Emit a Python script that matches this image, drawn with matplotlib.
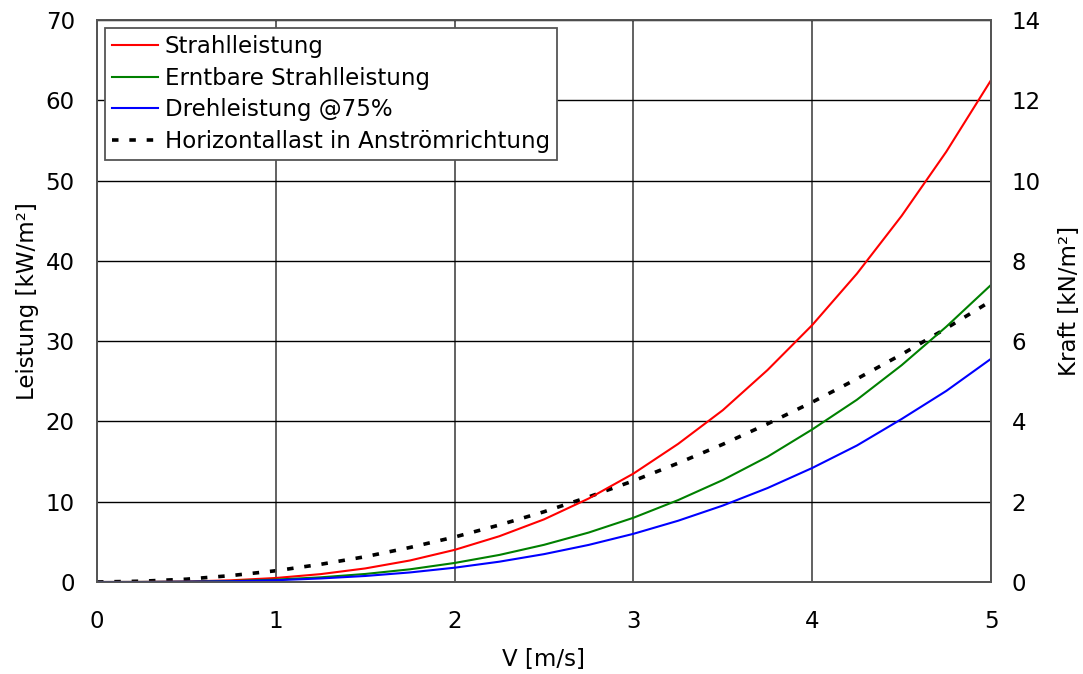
#!/usr/bin/env python3

import matplotlib as mpl
import matplotlib.pyplot as plt

# Strömungsgeschwindigkeit V [m/s]
v = [0, 0.25, 0.5, 0.75, 1.0, 1.25, 1.5, 1.75, 2.0, 2.25, 2.5, 2.75, 3.0,
     3.25, 3.5, 3.75, 4.0, 4.25, 4.5, 4.75, 5.0]

# Leistung [kW/m²]
strahlleistung = [0, 0.01, 0.06, 0.21, 0.5, 0.98, 1.69, 2.68, 4.0, 5.7, 7.8,
                  10.4, 13.5, 17.2, 21.4, 26.4, 32.0, 38.4, 45.6, 53.6, 62.5]
erntbare = [0, 0.01, 0.04, 0.12, 0.3, 0.58, 1.0, 1.58, 2.37, 3.37, 4.63,
            6.16, 8.0, 10.2, 12.7, 15.6, 19.0, 22.7, 27.0, 31.8, 37.0]
drehleistung = [0, 0.0, 0.03, 0.09, 0.22, 0.44, 0.75, 1.19, 1.78, 2.53, 3.47,
                4.62, 6.0, 7.63, 9.52, 11.7, 14.2, 17.0, 20.3, 23.8, 27.8]

# Kraft [kN/m²]
horizontallast = [0, 0.02, 0.07, 0.16, 0.28, 0.44, 0.63, 0.86, 1.12, 1.42,
                  1.75, 2.12, 2.52, 2.96, 3.43, 3.94, 4.48, 5.06, 5.67, 6.32, 7.0]

FS = 16.5
mpl.rcParams["font.family"] = "DejaVu Sans"
mpl.rcParams["font.size"] = FS

fig = plt.figure(figsize=(10.83, 6.74), dpi=100)
ax = fig.add_axes([97 / 1083, 92 / 674, 894 / 1083, 562 / 674])
ax2 = ax.twinx()

l1, = ax.plot(v, strahlleistung, color="#ff0000", lw=1.5, label="Strahlleistung")
l2, = ax.plot(v, erntbare, color="#008000", lw=1.5, label="Erntbare Strahlleistung")
l3, = ax.plot(v, drehleistung, color="#0000ff", lw=1.5, label="Drehleistung @75%")
l4, = ax2.plot(v, horizontallast, color="black", lw=2.6, linestyle=(0, (1.8, 3.0)),
               label="Horizontallast in Anströmrichtung")

ax.set_xlim(0, 5)
ax.set_ylim(0, 70)
ax2.set_ylim(0, 14)
ax.set_xticks(range(0, 6))
ax.set_yticks(range(0, 71, 10))
ax2.set_yticks(range(0, 15, 2))

ax.grid(True, axis="y", color="black", lw=1.0)
ax.grid(True, axis="x", color="#555555", lw=1.3)
ax.set_axisbelow(True)

for a in (ax, ax2):
	for s in a.spines.values():
		s.set_color("#555555")
		s.set_linewidth(1.3)
	a.tick_params(length=0, labelsize=FS)
ax.tick_params(axis="y", pad=16)
ax.tick_params(axis="x", pad=20)
ax2.tick_params(axis="y", pad=15)

ax.set_xlabel("V [m/s]", fontsize=FS, labelpad=11)
ax.set_ylabel("Leistung [kW/m²]", fontsize=FS, labelpad=5)
ax2.set_ylabel("Kraft [kN/m²]", fontsize=FS, labelpad=12)

leg = ax.legend(handles=[l1, l2, l3, l4], loc="upper left", bbox_to_anchor=(0.0, 1.0),
                fontsize=FS, frameon=True, fancybox=False, framealpha=1,
                handlelength=2.0, handletextpad=0.3, borderpad=0.3, labelspacing=0.38,
                borderaxespad=0.35)
leg.get_frame().set_edgecolor("#555555")
leg.get_frame().set_linewidth(1.3)
ax.set_zorder(ax2.get_zorder() + 1)
ax.patch.set_visible(False)

fig.savefig("out.png", dpi=100)
